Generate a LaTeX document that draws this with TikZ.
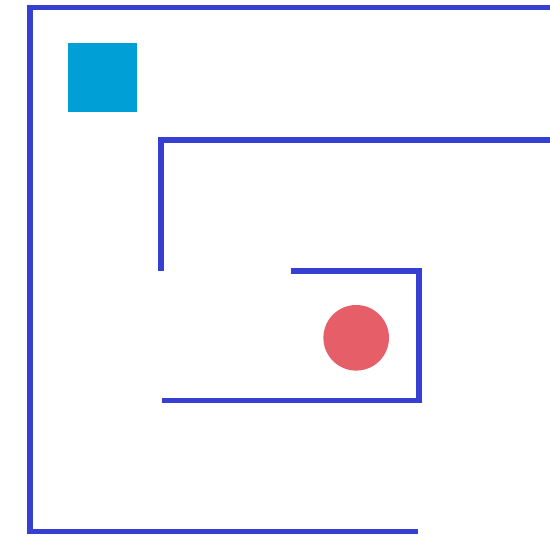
\documentclass[tikz,border=0pt]{standalone}
\definecolor{wallc}{RGB}{53,64,210}
\definecolor{goalc}{RGB}{0,159,214}
\definecolor{ballc}{RGB}{229,94,104}
\begin{document}
\begin{tikzpicture}[x=1pt,y=-1pt,
  wall/.style={draw=wallc,line width=5.5pt,line cap=butt,line join=miter}]
\useasboundingbox (0,0) rectangle (550,536);
\fill[white] (0,0) rectangle (550,536);
\coordinate (a1) at (550,7.5);
\coordinate (a2) at (30,7.5);
\coordinate (a3) at (30,531.5);
\coordinate (a4) at (418,531.5);
\draw[wall] (a1) -- (a2) -- (a3) -- (a4);
\coordinate (b1) at (550,140);
\coordinate (b2) at (161,140);
\coordinate (b3) at (161,270.5);
\draw[wall] (b1) -- (b2) -- (b3);
\coordinate (c1) at (291,271);
\coordinate (c2) at (419,271);
\coordinate (c3) at (419,400.7);
\coordinate (c4) at (162,400.7);
\draw[wall] (c1) -- (c2) -- (c3) -- (c4);
\node[fill=goalc,minimum width=69pt,minimum height=69pt,inner sep=0pt,draw=none] (goal) at (102.5,77.5) {};
\node[fill=ballc,circle,minimum size=65.6pt,inner sep=0pt,draw=none] (ball) at (356.2,337.8) {};
\end{tikzpicture}
\end{document}
